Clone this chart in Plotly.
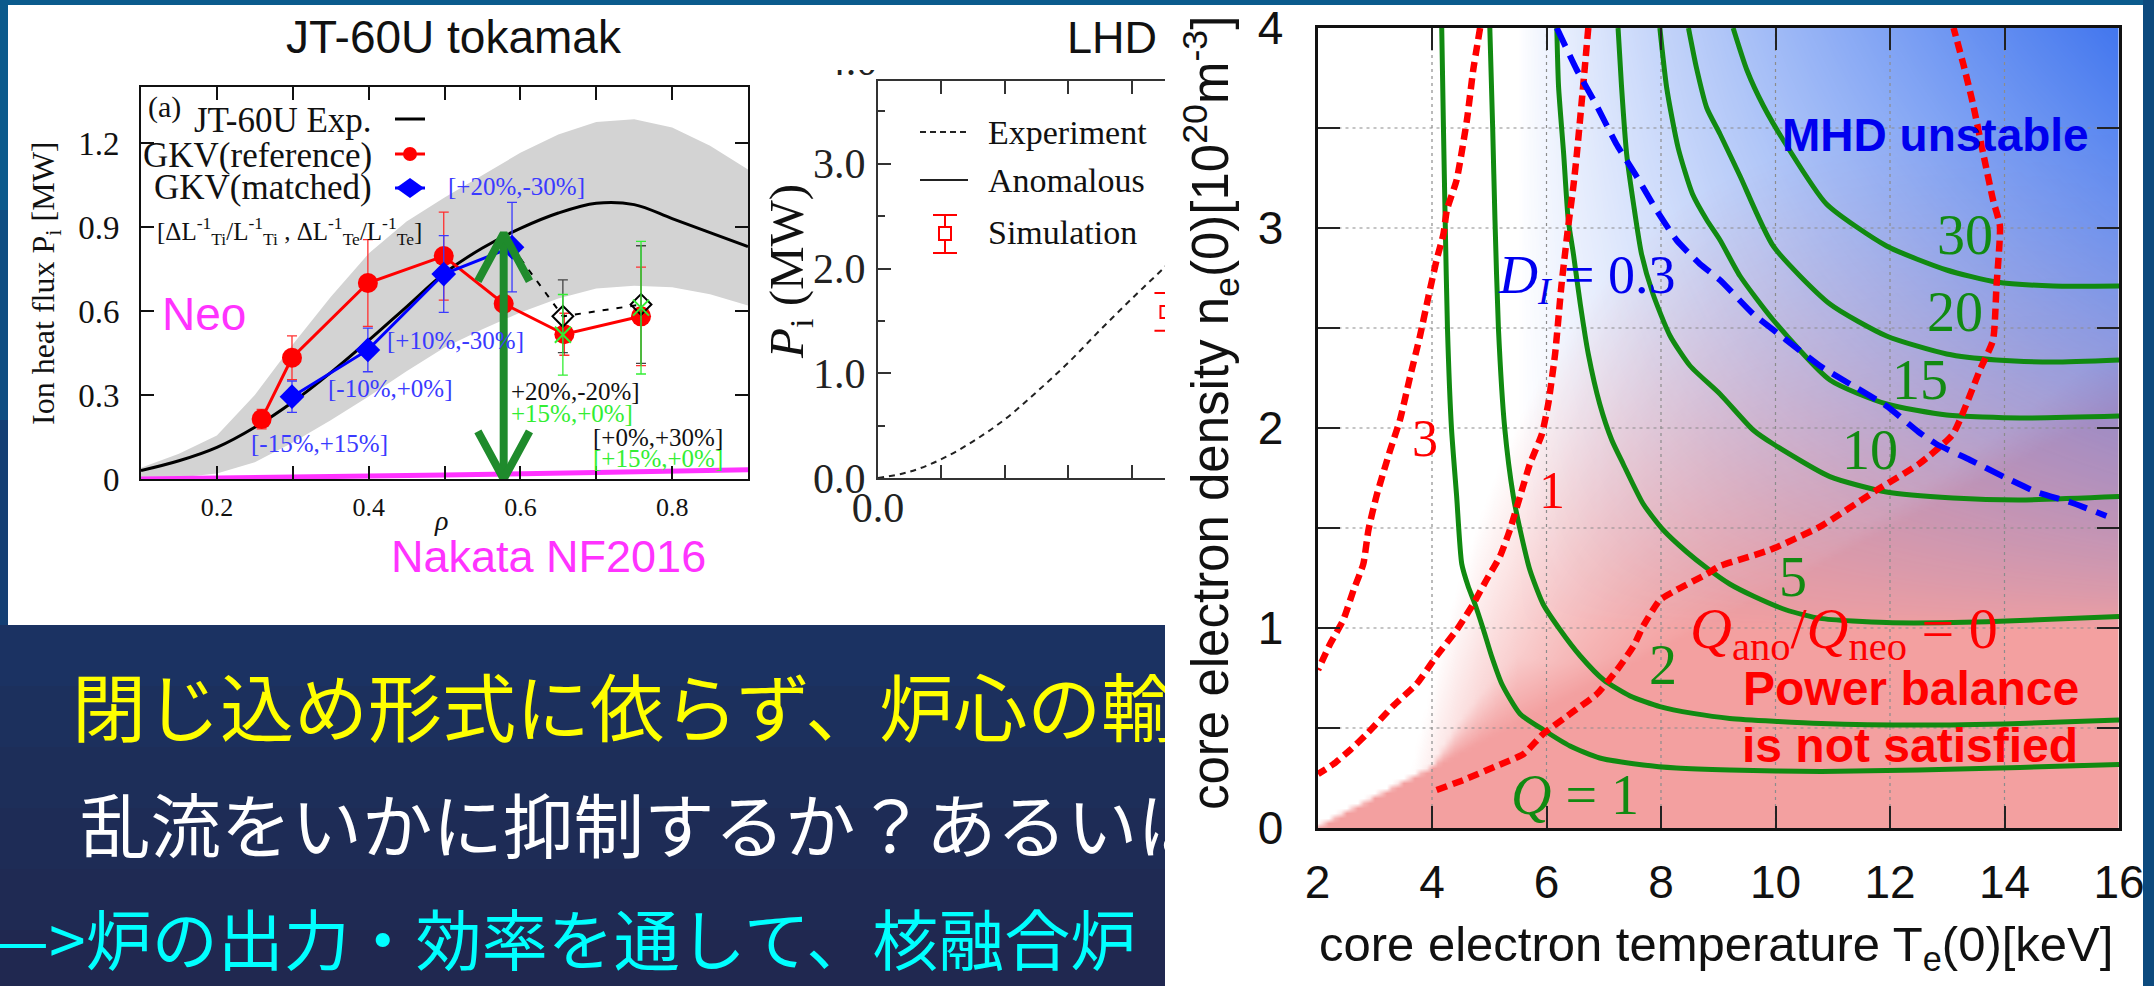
import numpy as np
import plotly.graph_objects as go

W, H = 2154, 986
SERIF = "Liberation Serif, Times New Roman, serif"
SANS = "Liberation Sans, Arial, sans-serif"
CJK = "Noto Sans CJK JP, sans-serif"

# ---------------- JT-60U tokamak: ion heat flux profile ----------------
rho_exp = [0.10, 0.15, 0.20, 0.25, 0.30, 0.35, 0.40, 0.45, 0.50, 0.55, 0.60,
           0.65, 0.70, 0.75, 0.80, 0.85, 0.90]
pi_exp = [0.030, 0.065, 0.113, 0.185, 0.275, 0.380, 0.495, 0.615, 0.735, 0.825,
          0.895, 0.950, 0.985, 0.980, 0.930, 0.880, 0.830]
pi_exp_hi = [0.040, 0.090, 0.155, 0.300, 0.480, 0.650, 0.805, 0.920, 1.005, 1.085,
             1.165, 1.230, 1.275, 1.285, 1.255, 1.190, 1.105]
pi_exp_lo = [0.000, 0.005, 0.020, 0.060, 0.130, 0.210, 0.295, 0.385, 0.470, 0.535,
             0.595, 0.645, 0.680, 0.690, 0.685, 0.660, 0.620]

rho_ref = [0.259, 0.299, 0.399, 0.499, 0.578, 0.658, 0.759]
pi_ref = [0.214, 0.433, 0.700, 0.796, 0.626, 0.517, 0.581]
pi_ref_err = [0.035, 0.078, 0.155, 0.157, 0.0, 0.075, 0.176]

rho_match = [0.299, 0.399, 0.499, 0.589]
pi_match = [0.294, 0.461, 0.732, 0.828]
pi_match_err = [0.056, 0.078, 0.137, 0.160]

rho_var = [0.656, 0.759]
pi_var = [0.581, 0.623]
pi_var_err = [0.130, 0.210]

rho_var2 = [0.656, 0.759]
pi_var2 = [0.515, 0.612]
pi_var2_err = [0.144, 0.237]

rho_neo = [0.10, 0.30, 0.50, 0.70, 0.90]
pi_neo = [0.000, 0.006, 0.014, 0.023, 0.033]

gap_rho = 0.578      # where the anomalous/neoclassical gap is marked
gap_top = 0.877

# ---------------- LHD ----------------
rho_lhd = [0.00, 0.05, 0.10, 0.15, 0.20, 0.25, 0.30, 0.35, 0.40, 0.45, 0.47]
p_lhd_exp = [0.00, 0.06, 0.18, 0.35, 0.56, 0.82, 1.10, 1.41, 1.71, 2.00, 2.12]
rho_lhd_sim = [0.455]
p_lhd_sim = [1.585]
p_lhd_sim_err = [0.18]

# ---------------- Operating space: Te(0) [keV] vs ne(0) [1e20 m^-3] ----------------
q1_te = [4.17, 4.20, 4.23, 4.27, 4.34, 4.43, 4.52, 4.63, 4.75, 4.90, 5.04, 5.22, 5.54,
         5.95, 6.41, 6.93, 7.69, 8.27, 9.20, 10.80, 12.50, 14.27, 16.0]
q1_ne = [4.00, 3.50, 3.04, 2.50, 2.00, 1.66, 1.32, 1.21, 1.12, 0.99, 0.86, 0.72, 0.57,
         0.49, 0.41, 0.35, 0.315, 0.30, 0.29, 0.283, 0.29, 0.303, 0.318]
q2_te = [5.01, 5.06, 5.10, 5.16, 5.27, 5.42, 5.54, 5.71, 5.94, 6.24, 6.59, 7.00, 7.46,
         7.98, 8.56, 9.20, 10.80, 12.50, 14.27, 16.0]
q2_ne = [4.00, 3.50, 3.04, 2.50, 2.00, 1.66, 1.49, 1.29, 1.12, 0.99, 0.86, 0.74, 0.66,
         0.607, 0.573, 0.548, 0.523, 0.515, 0.523, 0.54]
q5_te = [6.18, 6.21, 6.30, 6.38, 6.47, 6.59, 6.73, 6.93, 7.14, 7.34, 7.69, 8.04, 8.45,
         8.80, 9.20, 9.61, 10.19, 10.78, 11.94, 13.10, 14.27, 16.0]
q5_ne = [4.00, 3.71, 3.37, 3.04, 2.87, 2.62, 2.37, 2.12, 1.94, 1.82, 1.62, 1.49, 1.38,
         1.30, 1.22, 1.16, 1.09, 1.048, 1.027, 1.027, 1.037, 1.057]
q10_te = [7.25, 7.31, 7.40, 7.52, 7.66, 7.86, 8.16, 8.51, 9.03, 9.61, 9.96, 10.95,
          11.94, 13.10, 14.27, 16.0]
q10_ne = [4.00, 3.71, 3.37, 3.12, 2.87, 2.67, 2.46, 2.31, 2.17, 1.99, 1.92, 1.757,
          1.68, 1.65, 1.64, 1.657]
q15_te = [7.98, 8.10, 8.30, 8.55, 8.80, 9.03, 9.38, 9.96, 10.95, 11.94, 12.99, 14.27, 16.0]
q15_ne = [4.00, 3.70, 3.40, 3.17, 3.04, 2.94, 2.76, 2.54, 2.24, 2.12, 2.065, 2.05, 2.06]
q20_te = [8.48, 8.62, 8.80, 9.03, 9.38, 9.96, 10.95, 11.94, 12.99, 13.86, 14.85, 16.0]
q20_ne = [4.00, 3.80, 3.60, 3.47, 3.26, 2.91, 2.62, 2.46, 2.37, 2.34, 2.33, 2.34]
q30_te = [9.26, 9.50, 9.79, 10.20, 10.89, 11.94, 12.99, 13.86, 14.85, 16.0]
q30_ne = [4.00, 3.79, 3.61, 3.41, 3.12, 2.91, 2.79, 2.73, 2.71, 2.71]

r3_te = [4.84, 4.72, 4.61, 4.43, 4.26, 4.20, 4.08, 3.94, 3.79, 3.62, 3.44, 3.27, 3.03,
         2.89, 2.80, 2.63, 2.45, 2.22, 2.01]
r3_ne = [4.00, 3.79, 3.54, 3.24, 3.09, 2.97, 2.84, 2.66, 2.46, 2.26, 2.04, 1.89, 1.66,
         1.49, 1.32, 1.19, 1.04, 0.92, 0.79]
r1_te = [6.73, 6.64, 6.53, 6.47, 6.38, 6.26, 6.15, 6.03, 5.92, 5.71, 5.54, 5.36, 5.19,
         4.95, 4.72, 4.43, 4.08, 3.73, 3.32, 2.86, 2.57, 2.28, 2.01]
r1_ne = [4.00, 3.71, 3.37, 3.21, 3.01, 2.71, 2.37, 2.12, 1.97, 1.82, 1.66, 1.49, 1.36,
         1.24, 1.12, 0.99, 0.86, 0.72, 0.61, 0.47, 0.39, 0.32, 0.27]
r0_te = [4.08, 4.55, 5.13, 5.60, 5.94, 6.41, 6.88, 7.23, 7.52, 7.69, 7.98, 8.27, 8.80,
         9.03, 9.90, 10.78, 11.77, 12.52, 13.10, 13.57, 13.80, 13.86, 13.92, 13.80,
         13.63, 13.45, 13.28, 13.11]
r0_ne = [0.19, 0.24, 0.31, 0.37, 0.47, 0.57, 0.67, 0.79, 0.91, 1.01, 1.14, 1.19, 1.27,
         1.31, 1.39, 1.507, 1.69, 1.823, 1.97, 2.29, 2.44, 2.71, 3.01, 3.14, 3.37,
         3.62, 3.82, 4.00]
di_te = [6.18, 6.53, 6.88, 7.22, 7.57, 7.92, 8.27, 8.68, 9.03, 9.61, 10.19, 10.78,
         11.36, 11.94, 12.50, 12.81, 13.40, 13.98, 14.56, 15.14, 15.78]
di_ne = [4.00, 3.79, 3.61, 3.42, 3.26, 3.09, 2.94, 2.82, 2.74, 2.57, 2.44, 2.31,
         2.21, 2.11, 1.98, 1.92, 1.84, 1.757, 1.68, 1.63, 1.56]

te_ticks = [2, 4, 6, 8, 10, 12, 14, 16]
ne_ticks = [0, 0.5, 1, 1.5, 2, 2.5, 3, 3.5, 4]

slide_lines = ["閉じ込め形式に依らず、炉心の輸送",
               "乱流をいかに抑制するか？あるいは",
               "—>炉の出力・効率を通して、核融合炉"]


def pxx(p):
    return p / W


def pxy(p):
    return 1 - p / H


fig = go.Figure()

# ======== JT-60U panel ========
jt = dict(xaxis="x", yaxis="y", hoverinfo="skip")
fig.add_trace(go.Scatter(x=rho_exp + rho_exp[::-1], y=pi_exp_hi + pi_exp_lo[::-1],
                         fill="toself", fillcolor="#d3d3d3", mode="lines",
                         line=dict(width=0), **jt))
fig.add_trace(go.Scatter(x=rho_exp, y=pi_exp, mode="lines",
                         line=dict(color="black", width=3, shape="spline"), **jt))
fig.add_trace(go.Scatter(x=rho_neo, y=pi_neo, mode="lines",
                         line=dict(color="#ff33ff", width=5), **jt))
fig.add_trace(go.Scatter(x=rho_ref, y=pi_ref, mode="lines+markers",
                         line=dict(color="#ff0000", width=3),
                         marker=dict(symbol="circle", size=20, color="#ff0000"),
                         error_y=dict(type="data", array=pi_ref_err, color="#ff3030",
                                      thickness=1.3, width=5), **jt))
fig.add_trace(go.Scatter(x=rho_match, y=pi_match, mode="lines+markers",
                         line=dict(color="#0000ff", width=3),
                         marker=dict(symbol="diamond", size=19, color="#0000ff"),
                         error_y=dict(type="data", array=pi_match_err, color="#3a3aff",
                                      thickness=1.3, width=5), **jt))
fig.add_trace(go.Scatter(x=[rho_match[-1]] + rho_var, y=[pi_match[-1]] + pi_var,
                         mode="lines", line=dict(color="black", width=2, dash="6px,8px"),
                         **jt))
fig.add_trace(go.Scatter(x=rho_var, y=pi_var, mode="markers",
                         marker=dict(symbol="diamond-open", size=16, color="black",
                                     line=dict(width=2, color="black")),
                         error_y=dict(type="data", array=pi_var_err, color="#444444",
                                      thickness=1.3, width=5), **jt))
fig.add_trace(go.Scatter(x=rho_var2, y=pi_var2, mode="markers",
                         marker=dict(symbol="x-thin-open", size=16, color="#33ee33",
                                     line=dict(width=2, color="#33ee33")),
                         error_y=dict(type="data", array=pi_var2_err, color="#33ee33",
                                      thickness=1.3, width=5), **jt))
hw, hh = 0.034, 0.17
fig.add_trace(go.Scatter(
    x=[gap_rho, gap_rho, None, gap_rho - hw, gap_rho, gap_rho + hw, None,
       gap_rho - hw, gap_rho, gap_rho + hw],
    y=[0, gap_top, None, gap_top - hh, gap_top, gap_top - hh, None, hh, 0, hh],
    mode="lines", line=dict(color="#1f8b2c", width=8), **jt))

# ======== LHD panel ========
lhd = dict(xaxis="x2", yaxis="y2", hoverinfo="skip")
fig.add_trace(go.Scatter(x=rho_lhd, y=p_lhd_exp, mode="lines",
                         line=dict(color="#222222", width=2, dash="6px,5px",
                                   shape="spline"), **lhd))
fig.add_trace(go.Scatter(x=rho_lhd_sim, y=p_lhd_sim, mode="markers",
                         marker=dict(symbol="square-open", size=12, color="#ff0000",
                                     line=dict(width=2, color="#ff0000")),
                         error_y=dict(type="data", array=p_lhd_sim_err, color="#ff0000",
                                      thickness=2, width=12), **lhd))

# ======== Operating-space panel ========
op = dict(xaxis="x3", yaxis="y3", hoverinfo="skip")
# soft shading: pink where power balance fails, blue where MHD limits
te_g = np.linspace(2, 16, 141)
ne_g = np.linspace(0, 4, 161)
TT, NN = np.meshgrid(te_g, ne_g)
pink = np.clip(1.3 * (1 - np.exp(-(TT - 4) / 2.5)) - 0.45 * NN + 0.33, 0, 1)
edge = 0.15 * (TT - 2)
soft = 0.02 + 0.7 * np.clip((TT - 4) / 1.5, 0, 1)
pink = np.maximum(pink, np.clip(1 - (NN - edge) / soft, 0, 1))
blue = (np.clip((TT - 5.5) / 10.5, 0, 1) ** 0.8) * (np.clip((NN - 1) / 3, 0, 1) ** 0.7)
fig.add_trace(go.Heatmap(x=te_g, y=ne_g, z=pink, zmin=0, zmax=1, zsmooth="best",
                         showscale=False,
                         colorscale=[[0, "rgba(243,160,160,0)"], [1, "rgba(243,160,160,1)"]],
                         **op))
fig.add_trace(go.Heatmap(x=te_g, y=ne_g, z=blue, zmin=0, zmax=1, zsmooth="best",
                         showscale=False,
                         colorscale=[[0, "rgba(66,118,238,0)"], [1, "rgba(66,118,238,1)"]],
                         **op))
gx, gy = [], []
for t in te_ticks[1:-1]:
    gx += [t, t, None]
    gy += [0, 4, None]
for n in ne_ticks[1:-1]:
    gx += [2, 16, None]
    gy += [n, n, None]
fig.add_trace(go.Scatter(x=gx, y=gy, mode="lines",
                         line=dict(color="#8c8c8c", width=1.2, dash="3px,4px"), **op))
for te, ne in [(q1_te, q1_ne), (q2_te, q2_ne), (q5_te, q5_ne), (q10_te, q10_ne),
               (q15_te, q15_ne), (q20_te, q20_ne), (q30_te, q30_ne)]:
    fig.add_trace(go.Scatter(x=te, y=ne, mode="lines",
                             line=dict(color="#118a11", width=5, shape="spline",
                                       smoothing=0.6), **op))
for te, ne in [(r3_te, r3_ne), (r1_te, r1_ne), (r0_te, r0_ne)]:
    fig.add_trace(go.Scatter(x=te, y=ne, mode="lines",
                             line=dict(color="#ff0000", width=6.5, dash="11px,6px",
                                       shape="spline", smoothing=0.5), **op))
fig.add_trace(go.Scatter(x=di_te, y=di_ne, mode="lines",
                         line=dict(color="#0000ff", width=6, dash="20px,10px",
                                   shape="spline", smoothing=0.5), **op))

# ======== slide text (clipped by the right-hand figure) ========
txt = dict(xaxis="x4", yaxis="y4", hoverinfo="skip", mode="text", cliponaxis=True,
           textposition="middle right")
fig.add_trace(go.Scatter(x=[72], y=[717], text=[slide_lines[0]],
                         textfont=dict(family=CJK, size=74, color="#ffff00"), **txt))
fig.add_trace(go.Scatter(x=[80], y=[835], text=[slide_lines[1]],
                         textfont=dict(family=CJK, size=70.5, color="#ffffff"), **txt))
fig.add_trace(go.Scatter(x=[-10], y=[948], text=[slide_lines[2]],
                         textfont=dict(family=CJK, size=66, color="#00ffff"), **txt))
# top tick label of the LHD axis, cut by the figure border
fig.add_trace(go.Scatter(x=[851], y=[64], text=["4.0"], mode="text", cliponaxis=True,
                         textposition="middle center", hoverinfo="skip",
                         textfont=dict(family=SERIF, size=42, color="#222222"),
                         xaxis="x5", yaxis="y5"))

# ======== background shapes ========
shapes = []


def rect(x0, y0, x1, y1, color, layer="below"):
    shapes.append(dict(type="rect", xref="paper", yref="paper", x0=pxx(x0), x1=pxx(x1),
                       y0=pxy(y1), y1=pxy(y0), fillcolor=color, line=dict(width=0),
                       layer=layer))


def seg(x0, y0, x1, y1, color, width, dash="solid"):
    shapes.append(dict(type="line", xref="paper", yref="paper", x0=pxx(x0), x1=pxx(x1),
                       y0=pxy(y0), y1=pxy(y1), line=dict(color=color, width=width,
                                                         dash=dash), layer="above"))


navy = ["#1b3262", "#1c305d", "#1d2e59", "#1e2c56", "#1f2a53", "#202850"]
for i, c in enumerate(navy):
    rect(0, 625 + i * 61, 1165, 625 + (i + 1) * 61 + 1, c)
rect(0, 0, W, 5, "#0b5b8d")
rect(0, 0, 8, 210, "#0b5a8c")
rect(0, 210, 8, 420, "#0e4d82")
rect(0, 420, 8, 625, "#143f74")
rect(8, 5, 1165, 625, "#ffffff")
rect(1165, 5, 2143, H, "#ffffff")
rect(2143, 0, W, H, "#0c4a7e")

# JT legend samples
seg(395, 119, 425, 119, "black", 3)
seg(395, 154, 425, 154, "#ff0000", 3)
shapes.append(dict(type="circle", xref="paper", yref="paper", x0=pxx(403), x1=pxx(417),
                   y0=pxy(161), y1=pxy(147), fillcolor="#ff0000",
                   line=dict(width=0), layer="above"))
seg(395, 188, 425, 188, "#0000ff", 3)
shapes.append(dict(type="path", xref="paper", yref="paper",
                   path=(f"M {pxx(396)},{pxy(188)} L {pxx(410)},{pxy(178)} "
                         f"L {pxx(424)},{pxy(188)} L {pxx(410)},{pxy(198)} Z"),
                   fillcolor="#0000ff", line=dict(width=0), layer="above"))
# LHD legend samples
seg(920, 132, 968, 132, "#222222", 2, "6px,4px")
seg(920, 180, 968, 180, "#222222", 2)
seg(945, 215, 945, 253, "#ff0000", 2)
seg(933, 215, 957, 215, "#ff0000", 2)
seg(933, 253, 957, 253, "#ff0000", 2)
shapes.append(dict(type="rect", xref="paper", yref="paper", x0=pxx(939), x1=pxx(951),
                   y0=pxy(240), y1=pxy(227), fillcolor="#ffffff",
                   line=dict(width=2, color="#ff0000"), layer="above"))

# ======== annotations ========
anns = []


def note(text, x, y, size, color="black", family=SERIF, xanchor="center",
         yanchor="middle", angle=0, xref="paper", yref="paper"):
    if xref == "paper":
        x = pxx(x)
    if yref == "paper":
        y = pxy(y)
    anns.append(dict(text=text, x=x, y=y, xref=xref, yref=yref, showarrow=False,
                     font=dict(family=family, size=size, color=color),
                     xanchor=xanchor, yanchor=yanchor, textangle=angle))


note("JT-60U tokamak", 454, 37, 46, "#111111", SANS)
note("Ion heat flux P<sub>i</sub> [MW]", 45, 283, 32, "#111111", angle=-90)
note("<i>ρ</i>", 441, 520, 28, "#111111")
note("(a)", 164, 107, 30, "#111111")
note("JT-60U Exp.", 374, 121, 35, "#111111", xanchor="right")
note("GKV(reference)", 374, 155, 35, "#111111", xanchor="right")
note("GKV(matched)", 374, 188, 35, "#111111", xanchor="right")
note("[ΔL<sup>-1</sup><sub>Ti</sub>/L<sup>-1</sup><sub>Ti</sub> , "
     "ΔL<sup>-1</sup><sub>Te</sub>/L<sup>-1</sup><sub>Te</sub>]",
     155, 231, 25, "#111111", xanchor="left")
note("[+20%,-30%]", 516, 186, 25, "#3a3aff")
note("[+10%,-30%]", 455, 340, 25, "#3a3aff")
note("[-10%,+0%]", 390, 389, 25, "#3a3aff")
note("[-15%,+15%]", 320, 443, 25, "#3a3aff")
note("+20%,-20%]", 509, 391, 25, "#111111", xanchor="left")
note("+15%,+0%]", 509, 414, 25, "#33ee33", xanchor="left")
note("[+0%,+30%]", 658, 437, 25, "#111111")
note("[+15%,+0%]", 658, 459, 25, "#33ee33")
note("Neo", 204, 314, 46, "#ff33ff", SANS)
note("Nakata NF2016", 548, 556, 45, "#ff33ff", SANS)

note("LHD", 1112, 38, 45, "#111111", SANS)
note("<i>P</i><sub>i</sub> (MW)", 789, 272, 49, "#111111", angle=-90)
note("Experiment", 986, 132, 34, "#111111", xanchor="left")
note("Anomalous", 986, 180, 34, "#111111", xanchor="left")
note("Simulation", 986, 233, 34, "#111111", xanchor="left")

note("core electron density n<sub>e</sub>(0)[10<sup>20</sup>m<sup>-3</sup>]",
     1211, 413, 51, "#111111", SANS, angle=-90)
note("core electron temperature T<sub>e</sub>(0)[keV]", 1716, 947, 49, "#111111", SANS)


def onplot(text, te, ne, size, color, family=SERIF):
    note(text, te, ne, size, color, family, xref="x3", yref="y3")


onplot("<b>MHD unstable</b>", 12.8, 3.465, 46, "#0000ee", SANS)
onplot("<i>D<sub>I</sub></i> = 0.3", 6.71, 2.75, 54, "#0000ee")
onplot("30", 13.31, 2.965, 56, "#118a11")
onplot("20", 13.13, 2.58, 56, "#118a11")
onplot("15", 12.52, 2.24, 56, "#118a11")
onplot("10", 11.65, 1.89, 56, "#118a11")
onplot("5", 10.31, 1.255, 56, "#118a11")
onplot("2", 8.04, 0.815, 56, "#118a11")
onplot("<i>Q</i> = 1", 6.5, 0.165, 56, "#118a11")
onplot("3", 3.88, 1.95, 52, "#ff0000")
onplot("1", 6.10, 1.69, 52, "#ff0000")
onplot("<i>Q</i><sub>ano</sub>/<i>Q</i><sub>neo</sub> = 0", 11.2, 0.98, 58, "#ff0000")
onplot("<b>Power balance</b>", 12.37, 0.70, 48, "#ff0000", SANS)
onplot("<b>is not satisfied</b>", 12.35, 0.415, 48, "#ff0000", SANS)

# ======== axes ========
blk = "#111111"
jt_x = dict(domain=[pxx(141), pxx(748)], range=[0.1, 0.9], anchor="y",
            tickvals=[0.2, 0.3, 0.4, 0.5, 0.6, 0.7, 0.8],
            ticktext=["0.2", "", "0.4", "", "0.6", "", "0.8"],
            ticks="inside", ticklen=13, tickwidth=2, tickcolor=blk,
            showline=True, linecolor=blk, linewidth=2, mirror="ticks",
            showgrid=False, zeroline=False, ticklabelstandoff=4,
            tickfont=dict(family=SERIF, size=26, color=blk))
jt_y = dict(domain=[pxy(479), pxy(87)], range=[0, 1.4], anchor="x",
            tickvals=[0, 0.3, 0.6, 0.9, 1.2], ticktext=["0", "0.3", "0.6", "0.9", "1.2"],
            ticks="inside", ticklen=13, tickwidth=2, tickcolor=blk,
            showline=True, linecolor=blk, linewidth=2, mirror="ticks",
            showgrid=False, zeroline=False, ticklabelstandoff=13,
            tickfont=dict(family=SERIF, size=33, color=blk))
lhd_x = dict(domain=[pxx(878), pxx(1165)], range=[0, 0.4527], anchor="y2",
             tickvals=[0, 0.1, 0.2, 0.3, 0.4], ticktext=["0.0", "", "", "", ""],
             ticks="inside", ticklen=13, tickwidth=2, tickcolor="#333333",
             showline=True, linecolor="#333333", linewidth=2, mirror="ticks",
             showgrid=False, zeroline=False, ticklabelstandoff=-8,
             tickfont=dict(family=SERIF, size=42, color="#222222"))
lhd_y = dict(domain=[pxy(478), pxy(81)], range=[0, 3.79], anchor="x2",
             tickvals=[0, 1, 2, 3], ticktext=["0.0", "1.0", "2.0", "3.0"],
             ticks="inside", ticklen=13, tickwidth=2, tickcolor="#333333",
             minor=dict(tickvals=[0.5, 1.5, 2.5, 3.5], ticks="inside", ticklen=7,
                        tickwidth=2, tickcolor="#333333", showgrid=False),
             showline=True, linecolor="#333333", linewidth=2, mirror=False,
             showgrid=False, zeroline=False, ticklabelstandoff=2,
             tickfont=dict(family=SERIF, size=42, color="#222222"))
op_x = dict(domain=[pxx(1317.5), pxx(2119)], range=[2, 16], anchor="y3",
            tickvals=te_ticks, ticktext=[str(t) for t in te_ticks],
            ticks="inside", ticklen=22, tickwidth=2, tickcolor="#222222",
            showline=True, linecolor="#111111", linewidth=3, mirror="ticks",
            showgrid=False, zeroline=False, ticklabelstandoff=12,
            tickfont=dict(family=SANS, size=46, color="#111111"))
op_y = dict(domain=[pxy(828), pxy(28)], range=[0, 4], anchor="x3",
            tickvals=ne_ticks,
            ticktext=[str(int(n)) if n == int(n) else "" for n in ne_ticks],
            ticks="inside", ticklen=22, tickwidth=2, tickcolor="#222222",
            showline=True, linecolor="#111111", linewidth=3, mirror="ticks",
            showgrid=False, zeroline=False, ticklabelstandoff=22,
            tickfont=dict(family=SANS, size=46, color="#111111"))
hidden = dict(visible=False, showgrid=False, zeroline=False, fixedrange=True)

fig.update_layout(
    width=W, height=H, margin=dict(l=0, r=0, t=0, b=0, pad=0, autoexpand=False),
    paper_bgcolor="#1c2d58", plot_bgcolor="rgba(0,0,0,0)", showlegend=False,
    xaxis=jt_x, yaxis=jt_y, xaxis2=lhd_x, yaxis2=lhd_y, xaxis3=op_x, yaxis3=op_y,
    xaxis4=dict(domain=[0, pxx(1165)], range=[0, 1165], anchor="y4", **hidden),
    yaxis4=dict(domain=[0, pxy(625)], range=[986, 625], anchor="x4", **hidden),
    xaxis5=dict(domain=[pxx(800), pxx(878)], range=[800, 878], anchor="y5", **hidden),
    yaxis5=dict(domain=[pxy(81), pxy(70)], range=[81, 70], anchor="x5", **hidden),
    shapes=shapes, annotations=anns,
)

fig.write_html("out.html", config={"displayModeBar": False})
